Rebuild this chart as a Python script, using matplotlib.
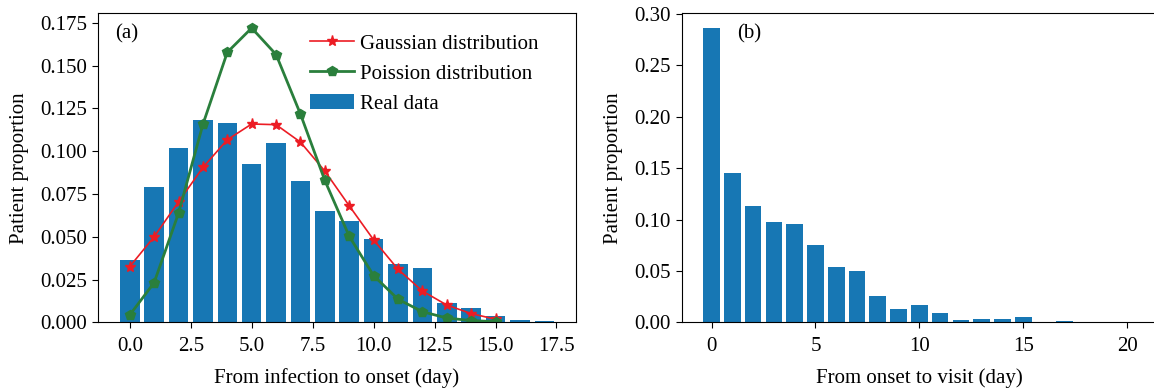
import numpy as np
import matplotlib.pyplot as plt

plt.rcParams['font.family'] = ['Liberation Serif', 'DejaVu Serif']
plt.rcParams['font.size'] = 15
plt.rcParams['xtick.major.pad'] = 6
plt.rcParams['ytick.major.pad'] = 4
plt.rcParams['xtick.major.size'] = 4.5
plt.rcParams['ytick.major.size'] = 4

# (a) 感染到发病
days_a = np.arange(0, 18)
real_a = [0.0365, 0.0792, 0.1020, 0.1184, 0.1167, 0.0927, 0.1050, 0.0827, 0.0652,
          0.0593, 0.0488, 0.0341, 0.0318, 0.0113, 0.0084, 0.0037, 0.0014, 0.0008]
days_fit = np.arange(0, 16)
gauss = [0.0326, 0.0500, 0.0704, 0.0905, 0.1067, 0.1159, 0.1155, 0.1053,
         0.0884, 0.0681, 0.0482, 0.0310, 0.0183, 0.0101, 0.0051, 0.0018]
poisson = [0.0043, 0.0232, 0.0638, 0.1157, 0.1578, 0.1720, 0.1565, 0.1217,
           0.0829, 0.0503, 0.0273, 0.0135, 0.0062, 0.0025, 0.0010, 0.0004]

# (b) 发病到就诊
days_b = np.arange(0, 21)
real_b = [0.2864, 0.1453, 0.1132, 0.0980, 0.0957, 0.0753, 0.0538, 0.0500, 0.0256,
          0.0130, 0.0169, 0.0091, 0.0023, 0.0032, 0.0032, 0.0052, 0.0, 0.0010,
          0.0, 0.0, 0.0]

bar_color = '#1777b4'

fig = plt.figure(figsize=(11.54, 3.92), dpi=100)
ax1 = fig.add_axes([0.0852, 0.1778, 0.4137, 0.7883])
ax2 = fig.add_axes([0.5907, 0.1778, 0.4119, 0.7883])

ax1.bar(days_a, real_a, width=0.8, color=bar_color, label='Real data')
ax1.plot(days_fit, gauss, color='#ec1c24', marker='*', markersize=8,
         linewidth=1.2, label='Gaussian distribution')
ax1.plot(days_fit, poisson, color='#2a7f3c', marker='p', markersize=7,
         linewidth=2, label='Poission distribution')
ax1.set_xlabel('From infection to onset (day)', labelpad=9)
ax1.set_ylabel('Patient proportion', labelpad=8)
ax1.set_yticks(np.arange(0, 0.176, 0.025))
ax1.set_yticklabels([f'{v:.3f}' for v in np.arange(0, 0.176, 0.025)])
ax1.set_xticks(np.arange(0, 17.6, 2.5))
ax1.set_xticklabels([f'{v:.1f}' for v in np.arange(0, 17.6, 2.5)])
ax1.text(0.035, 0.935, '(a)', transform=ax1.transAxes, va='center', ha='left')
ax1.legend(loc='upper right', bbox_to_anchor=(0.94, 0.96), frameon=False,
           handlelength=2.1, borderaxespad=0, handletextpad=0.3, labelspacing=0.5)

ax2.bar(days_b, real_b, width=0.8, color=bar_color)
ax2.set_xlim(-1.44, 21.44)
ax2.set_xlabel('From onset to visit (day)', labelpad=9)
ax2.set_ylabel('Patient proportion', labelpad=8)
ax2.set_yticks(np.arange(0, 0.31, 0.05))
ax2.set_yticklabels([f'{v:.2f}' for v in np.arange(0, 0.31, 0.05)])
ax2.set_xticks([0, 5, 10, 15, 20])
ax2.text(0.116, 0.935, '(b)', transform=ax2.transAxes, va='center', ha='left')

fig.savefig('out.png', dpi=100)
